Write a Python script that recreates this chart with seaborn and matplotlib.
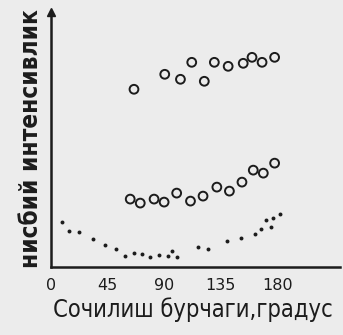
import pandas as pd
import matplotlib
matplotlib.use('Agg')
import matplotlib.pyplot as plt
import seaborn as sns

# upper series (open circles)
upper_angle = [66, 90.5, 103, 112, 122, 130, 141, 153, 160, 168, 178]
upper_val = [178, 193, 188, 205, 186, 205, 201, 204, 210, 205, 210]

# middle series (open circles)
middle_angle = [63, 71, 82, 90, 100, 111, 121, 132, 142, 152, 161, 169, 178]
middle_val = [68, 64, 68, 65, 74, 66, 71, 80, 76, 85, 97, 94, 104]

# lower series (small dots)
lower_angle = [9, 14, 22, 33, 43, 52, 59, 66, 72, 79, 86, 93, 96, 100,
               117, 125, 140, 151, 162, 167, 171, 175, 177, 182]
lower_val = [45, 36, 35, 28, 22, 18, 11, 14, 13, 10, 12, 11, 16, 10,
             20, 18, 26, 29, 33, 38, 47, 40, 49, 53]

xticks = [0, 45, 90, 135, 180]

bg = '#ececec'
ink = '#1c1c1c'

sns.set_theme(style='white')
plt.rcParams['font.family'] = ['DejaVu Sans']

circles = pd.DataFrame({
    'angle': upper_angle + middle_angle,
    'value': upper_val + middle_val,
})
dots = pd.DataFrame({'angle': lower_angle, 'value': lower_val})

fig = plt.figure(figsize=(3.43, 3.35), dpi=100, facecolor=bg)
ax = fig.add_axes([0.149, 0.203, 0.842, 0.76])
ax.set_facecolor(bg)

sns.scatterplot(data=circles, x='angle', y='value', ax=ax, s=40,
                facecolor='none', edgecolor=ink, linewidth=1.4, marker='o')
sns.scatterplot(data=dots, x='angle', y='value', ax=ax, s=8,
                color=ink, linewidth=0, marker='o')

ax.set_xlim(0, 230)
ax.set_ylim(0, 255)
ax.set_xticks(xticks)
ax.set_xticklabels([str(t) for t in xticks], fontsize=11.5, color=ink)
ax.set_yticks([])
ax.tick_params(axis='x', direction='in', length=4, width=1.2, pad=8, colors=ink)
ax.set_xlabel('')
ax.set_ylabel('')

for side in ['top', 'right']:
    ax.spines[side].set_visible(False)
for side in ['left', 'bottom']:
    ax.spines[side].set_color(ink)
    ax.spines[side].set_linewidth(1.8)

# arrow on the y axis
ax.plot([0], [1], marker='^', markersize=6, color=ink, clip_on=False,
        transform=ax.transAxes)

fig.text(0.09, 0.585, 'нисбий интенсивлик', rotation=90, ha='center',
         va='center', fontsize=17.5, color=ink, fontstretch='condensed',
         fontweight='bold')
fig.text(0.561, 0.075, 'Сочилиш бурчаги,градус', ha='center', va='center',
         fontsize=17, color=ink, fontstretch='condensed')

fig.savefig('out.png', dpi=100, facecolor=bg)
